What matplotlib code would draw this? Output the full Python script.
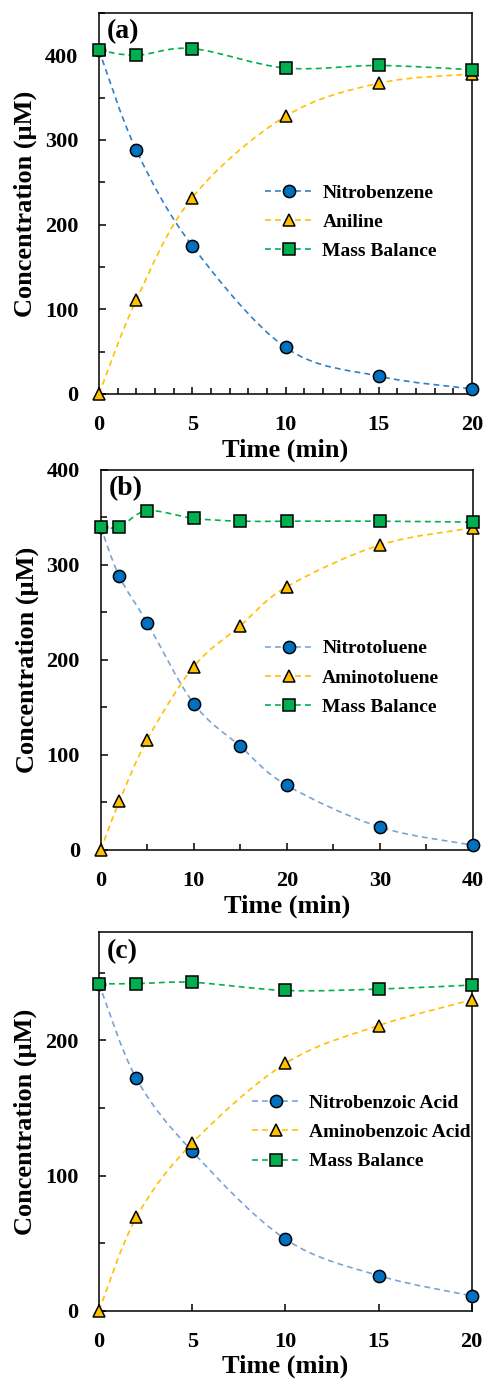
import matplotlib
matplotlib.use("Agg")
import matplotlib.pyplot as plt
from matplotlib.path import Path
from matplotlib.patches import PathPatch
from matplotlib.lines import Line2D
from matplotlib.ticker import MultipleLocator

plt.rcParams['font.family'] = ['Liberation Serif', 'DejaVu Serif']
plt.rcParams['font.weight'] = 'bold'
plt.rcParams['axes.labelweight'] = 'bold'

# (a) nitrobenzene -> aniline
time_a = [0, 2, 5, 10, 15, 20]
nitrobenzene = [406, 288, 175, 55, 21, 6]
aniline = [0, 111, 232, 328, 367, 378]
mass_a = [406, 400, 408, 385, 388, 383]

# (b) nitrotoluene -> aminotoluene
time_b = [0, 2, 5, 10, 15, 20, 30, 40]
nitrotoluene = [340, 288, 239, 154, 109, 68, 24, 5]
aminotoluene = [0, 51, 116, 193, 236, 277, 321, 339]
mass_b = [340, 340, 357, 349, 346, 346, 346, 345]

# (c) nitrobenzoic acid -> aminobenzoic acid
time_c = [0, 2, 5, 10, 15, 20]
nitrobenzoic = [242, 172, 118, 53, 26, 11]
aminobenzoic = [0, 69, 124, 183, 211, 230]
mass_c = [242, 242, 243, 237, 238, 241]

panels = [
    dict(tag='(a)', t=time_a, series=[nitrobenzene, aniline, mass_a],
         names=['Nitrobenzene', 'Aniline', 'Mass Balance'],
         xmax=20, xmajor=5, xminor=1, ymax=450,
         rect=[0.2037, 0.7145, 0.7675, 0.2761], leg=(0.445, 0.451),
         blue='#2F80C8'),
    dict(tag='(b)', t=time_b, series=[nitrotoluene, aminotoluene, mass_b],
         names=['Nitrotoluene', 'Aminotoluene', 'Mass Balance'],
         xmax=40, xmajor=10, xminor=5, ymax=400,
         rect=[0.2072, 0.3841, 0.7661, 0.2754], leg=(0.441, 0.453),
         blue='#7BA3D6'),
    dict(tag='(c)', t=time_c, series=[nitrobenzoic, aminobenzoic, mass_c],
         names=['Nitrobenzoic Acid', 'Aminobenzoic Acid', 'Mass Balance'],
         xmax=20, xmajor=5, xminor=5, ymax=280,
         rect=[0.2037, 0.0502, 0.7669, 0.2742], leg=(0.41, 0.4715),
         blue='#7BA3D6'),
]

markers = ['o', '^', 's']
faces = ['#0070C0', '#FFC000', '#00B050']
msizes = [8.8, 8.0, 8.6]
dash = (0, (3.5, 2.5))


def smooth_path(xs, ys, k=1 / 6):
    # Catmull-Rom style cubic Bezier through the points
    pts = list(zip(xs, ys))
    n = len(pts)
    verts = [pts[0]]
    codes = [Path.MOVETO]
    for i in range(n - 1):
        p0 = pts[max(i - 1, 0)]
        p1 = pts[i]
        p2 = pts[i + 1]
        p3 = pts[min(i + 2, n - 1)]
        c1 = (p1[0] + (p2[0] - p0[0]) * k, p1[1] + (p2[1] - p0[1]) * k)
        c2 = (p2[0] - (p3[0] - p1[0]) * k, p2[1] - (p3[1] - p1[1]) * k)
        verts += [c1, c2, p2]
        codes += [Path.CURVE4] * 3
    return Path(verts, codes)


fig = plt.figure(figsize=(4.86, 13.8), dpi=100)

for p in panels:
    ax = fig.add_axes(p['rect'])
    lcolors = [p['blue'], '#FFC000', '#00B050']
    handles = []
    for ys, mk, fc, lc, ms, name in zip(p['series'], markers, faces, lcolors,
                                         msizes, p['names']):
        ax.add_patch(PathPatch(smooth_path(p['t'], ys), fill=False,
                               edgecolor=lc, lw=1.2, linestyle=dash,
                               zorder=2))
        ax.plot(p['t'], ys, ls='none', marker=mk, ms=ms, mfc=fc, mec='black',
                mew=1.1, clip_on=False, zorder=3)
        handles.append(Line2D([], [], color=lc, lw=1.2, linestyle=dash,
                              marker=mk, ms=ms, mfc=fc, mec='black', mew=1.1,
                              label=name))

    ax.set_xlim(0, p['xmax'])
    ax.set_ylim(0, p['ymax'])
    ax.xaxis.set_major_locator(MultipleLocator(p['xmajor']))
    ax.xaxis.set_minor_locator(MultipleLocator(p['xminor']))
    ax.yaxis.set_major_locator(MultipleLocator(100))
    ax.yaxis.set_minor_locator(MultipleLocator(50))
    ax.tick_params(which='both', direction='in', width=1.1, labelsize=16,
                   top=False, right=False)
    ax.tick_params(which='major', length=5)
    ax.tick_params(which='minor', length=4)
    ax.tick_params(axis='x', pad=15)
    ax.tick_params(axis='y', pad=15)
    for lab in ax.get_xticklabels() + ax.get_yticklabels():
        lab.set_fontweight('bold')
    for s in ax.spines.values():
        s.set_linewidth(1.1)

    ax.set_xlabel('Time (min)', fontsize=19, va='center')
    ax.set_ylabel('Concentration (\u03bcM)', fontsize=19)
    ax.xaxis.set_label_coords(0.5, -0.148)
    ax.yaxis.set_label_coords(-0.166, 0.5)

    ax.text(0.021, 0.95, p['tag'], transform=ax.transAxes, fontsize=20,
            fontweight='bold', ha='left', va='center')

    ax.legend(handles=handles, loc='center left', bbox_to_anchor=p['leg'],
              frameon=False, fontsize=14, handlelength=2.5,
              handletextpad=0.45, labelspacing=0.6, borderpad=0,
              borderaxespad=0)

fig.savefig('out.png', dpi=100)
